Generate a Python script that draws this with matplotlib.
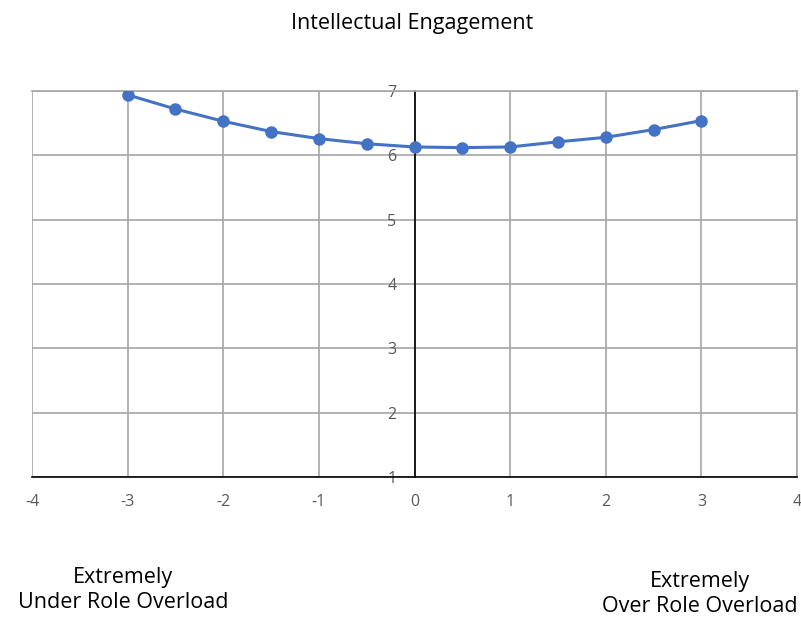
import matplotlib
matplotlib.use("Agg")
import matplotlib.pyplot as plt

x_vals = [-3, -2.5, -2, -1.5, -1, -0.5, 0, 0.5, 1, 1.5, 2, 2.5, 3]
y_vals = [6.94, 6.72, 6.53, 6.37, 6.26, 6.18, 6.13, 6.12, 6.13, 6.21, 6.28, 6.40, 6.54]
x_ticks = [-4, -3, -2, -1, 0, 1, 2, 3, 4]
y_ticks = [1, 2, 3, 4, 5, 6, 7]
title = "Intellectual Engagement"
left_label = "Extremely\nUnder Role Overload"
right_label = "Extremely\nOver Role Overload"

plt.rcParams['font.family'] = ['Open Sans', 'DejaVu Sans']
plt.rcParams['axes.unicode_minus'] = False
fig = plt.figure(figsize=(8.01, 6.17), dpi=100)
ax = fig.add_axes([32/801, 1-477/617, (797-32)/801, (477-91)/617])

ax.plot(x_vals, y_vals, color='#4472C4', lw=2.2, marker='o', ms=8, zorder=3)
ax.set_xlim(-4, 4)
ax.set_ylim(1, 7)
ax.set_xticks(x_ticks)
ax.set_yticks(y_ticks)
ax.grid(True, color='#A6A6A6', lw=1.2)
for s in ['top', 'right']:
    ax.spines[s].set_color('#A6A6A6')
    ax.spines[s].set_linewidth(1.2)
ax.spines['left'].set_position(('data', 0))
ax.spines['left'].set_color('black')
ax.spines['left'].set_linewidth(1.2)
ax.spines['left'].set_zorder(2.5)
ax.spines['bottom'].set_color('black')
ax.spines['bottom'].set_linewidth(1.2)
ax.tick_params(axis='both', length=0, colors='#595959', labelsize=11.5)
ax.tick_params(axis='x', pad=12)
ax.tick_params(axis='y', pad=13)

fig.text(412/801, 1-24/617, title, ha='center', va='center', fontsize=15.5)
fig.text(123/801, 1-590/617, left_label, ha='center', va='center', fontsize=15.5, linespacing=1.25)
fig.text(700/801, 1-594/617, right_label, ha='center', va='center', fontsize=15.5, linespacing=1.25)

fig.savefig('out.png', dpi=100)
